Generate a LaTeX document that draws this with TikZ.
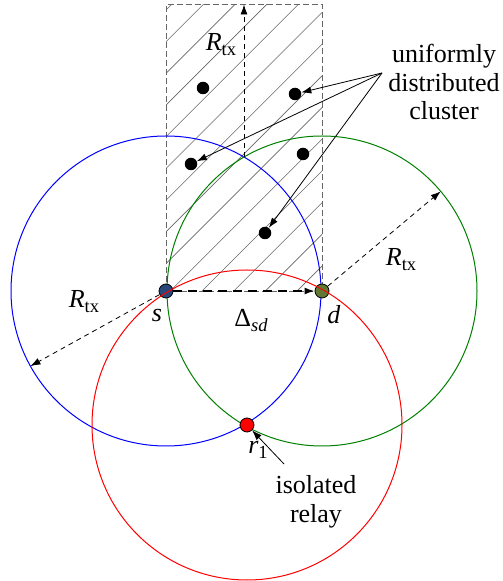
\documentclass[tikz,border=0pt]{standalone}
\usepackage{fontspec}
\setmainfont{Liberation Serif}
\usetikzlibrary{arrows.meta, positioning, calc}

\definecolor{srcC}  {RGB}{ 40, 72,122}
\definecolor{dstC}  {RGB}{ 96,120, 52}
\definecolor{covS}  {RGB}{  0,  0,255}
\definecolor{covD}  {RGB}{  0,128,  0}
\definecolor{covR}  {RGB}{255,  0,  0}
\definecolor{hatchC}{gray}{0.40}
\definecolor{zoneC} {gray}{0.40}

\newcommand{\lowtxt}[1]{\raisebox{-5pt}{\fontsize{18.5}{18.5}\selectfont #1}}

\tikzset{
  peer/.style   = {circle, draw=black, line width=0.8pt, inner sep=0pt,
                   minimum size=14pt},
  member/.style = {circle, fill=black, inner sep=0pt, minimum size=12.5pt},
  lbl/.style    = {inner sep=0pt, font=\fontsize{26}{28.5}\selectfont,
                   align=center},
  cover/.style  = {line width=1pt},
  reach/.style  = {->, line width=0.8pt, dash pattern=on 5pt off 4pt},
  gap/.style    = {->, line width=1.6pt, dash pattern=on 9pt off 6pt},
  ptr/.style    = {->, line width=0.8pt},
  hatch/.style  = {hatchC, line width=0.6pt},
  zone/.style   = {draw=zoneC, line width=0.8pt, dash pattern=on 6pt off 3pt}
}

\begin{document}
\begin{tikzpicture}[x=1pt, y=1pt, >={Latex[length=10pt, width=7pt]}]
  \useasboundingbox (0,0) rectangle (503,581);

  %% ── Positions ─────────────────────────────────────────────────
  \coordinate (sC)      at (166,290);
  \coordinate (dC)      at (322,290);
  \coordinate (rC)      at (247,156);
  \coordinate (meet)    at (244,424);
  \coordinate (zoneNE)  at (322,576.5);
  \coordinate (zoneTop) at (244,576.5);

  %% ── Hatched cluster zone ──────────────────────────────────────
  \begin{scope}
    \clip (sC) rectangle (zoneNE);
    \foreach \k in {0,...,14}
      \draw[hatch] ({-115+31.7*\k},290) -- ++(300,300);
  \end{scope}
  \draw[zone] (sC) rectangle (zoneNE);

  %% ── Coverage circles ──────────────────────────────────────────
  \draw[cover, covS] (sC) circle[radius=155];
  \draw[cover, covD] (dC) circle[radius=155];

  %% ── Cluster members ───────────────────────────────────────────
  \node[member] (m1) at (203,493) {};
  \node[member] (m2) at (295,487) {};
  \node[member] (m3) at (191,417) {};
  \node[member] (m4) at (303,427) {};
  \node[member] (m5) at (265,348) {};

  %% ── Source, destination, relay ────────────────────────────────
  \node[peer, fill=srcC] (s) at (sC) {};
  \node[peer, fill=dstC] (d) at (dC) {};
  \draw[cover, covR] (rC) circle[radius=155];
  \node[peer, fill=covR] (r1) at (rC) {};

  %% ── Labels ────────────────────────────────────────────────────
  \node[lbl] (sLbl)     at (157,265) {\textit{s}};
  \node[lbl] (dLbl)     at (334,266) {\textit{d}};
  \node[lbl] (gapLbl)   at (251,260) {Δ\lowtxt{\textit{sd}}};
  \node[lbl] (r1Lbl)    at (258,131) {\textit{r}\lowtxt{1}};
  \node[lbl] (rTopLbl)  at (221,536) {\textit{R}\lowtxt{tx}};
  \node[lbl] (rLeftLbl) at ( 84,279) {\textit{R}\lowtxt{tx}};
  \node[lbl] (rRgtLbl)  at (401,321) {\textit{R}\lowtxt{tx}};
  \node[lbl] (clusterLbl) at (444,499) {uniformly\\distributed\\cluster};
  \node[lbl] (relayLbl)   at (316,79)  {isolated\\relay};

  %% ── Range arrows ──────────────────────────────────────────────
  \coordinate (blueRim)  at ($(sC)+(209:155)$);
  \coordinate (greenRim) at ($(dC)+(40:155)$);
  \draw[reach] (s) -- (blueRim);
  \draw[reach] (d) -- (greenRim);
  \draw[reach] (meet) -- (zoneTop);
  \draw[gap]   (s) -- (d);

  %% ── Pointers ──────────────────────────────────────────────────
  \coordinate (clusterTail) at (382,508);
  \coordinate (relayTail)   at (284,117);
  \foreach \m in {m2, m3, m5}
    \draw[ptr] (clusterTail) -- (\m);
  \draw[ptr] (relayTail) -- (r1);

\end{tikzpicture}
\end{document}
